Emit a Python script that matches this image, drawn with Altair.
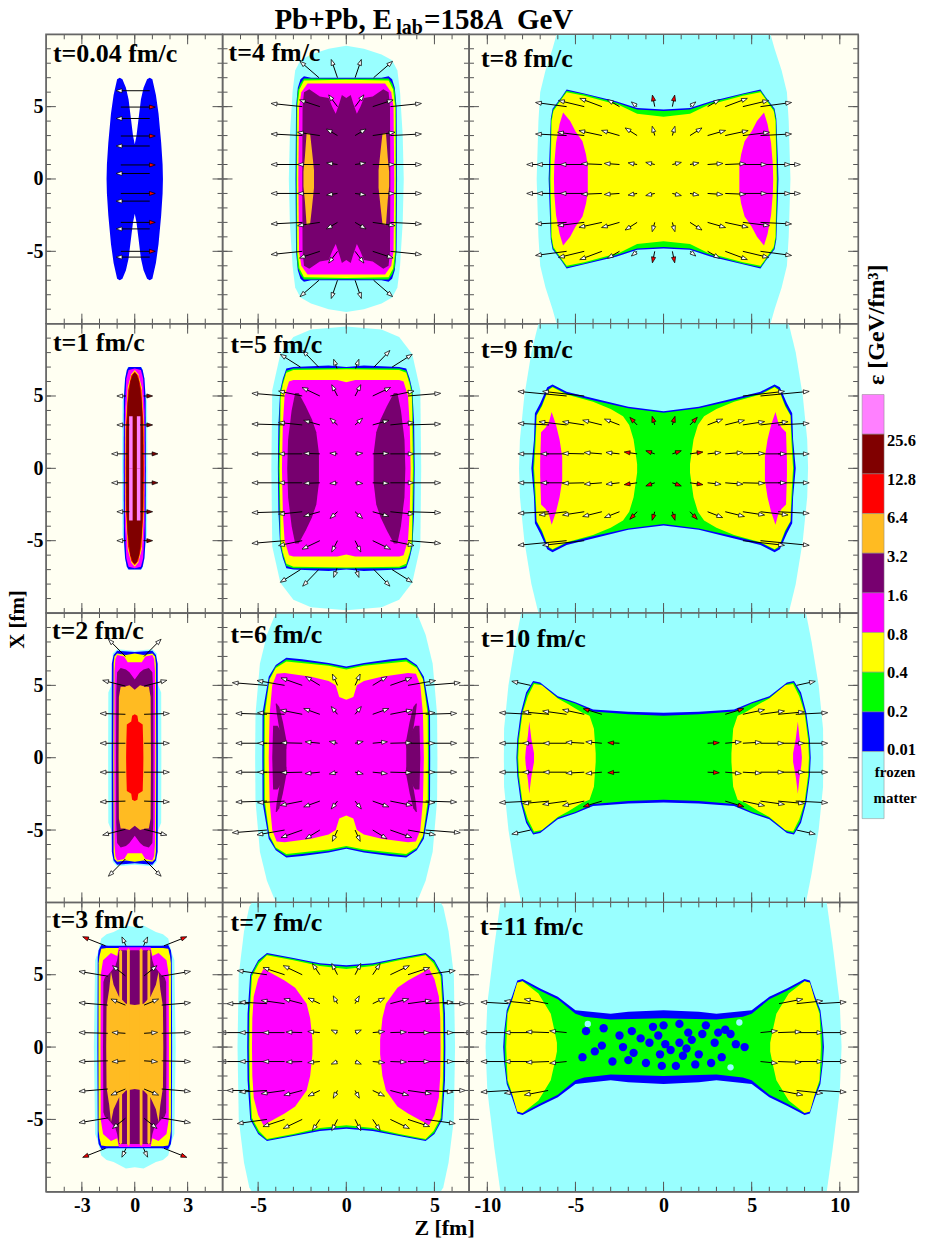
import math
import altair as alt
import pandas as pd

CYAN, BLUE, GREEN, YELLOW = "#99FFFF", "#0000FF", "#00FF00", "#FFFF00"
MAG, PURP, ORNG, RED, DRED, PINK = "#FF00FF", "#77006F", "#FFBB22", "#FF0000", "#800000", "#FF80FF"
BG = "#FFFFF2"
FONT = "Liberation Serif"

LABELS = ["t=0.04 fm/c", "t=1 fm/c", "t=2 fm/c", "t=3 fm/c", "t=4 fm/c", "t=5 fm/c",
          "t=6 fm/c", "t=7 fm/c", "t=8 fm/c", "t=9 fm/c", "t=10 fm/c", "t=11 fm/c"]
LEVELS = ["25.6", "12.8", "6.4", "3.2", "1.6", "0.8", "0.4", "0.2", "0.01"]
BAR_COLORS = [PINK, DRED, RED, ORNG, PURP, MAG, YELLOW, GREEN, BLUE, CYAN]
BAR_EDGES = [0, 1, 2, 3, 4, 5, 6, 7, 8, 9, 10.69]

# regions: F = whole mirrored profile, L = lobe pair, B = band in four quadrants
T0_R = [("F", BLUE, [0, .1, .2, .35, .5, .7, .85, 1.0, 1.2, 1.35, 1.5, 1.58, 1.6],
         [2.4, 3, 4, 5.5, 6.3, 6.9, 7, 6.9, 5.8, 4.5, 2.5, 1, 0])]
T0_A = [(.85, 6.1, -.89, 6.1, "white"), (.85, 4.18, -.89, 4.18, "white"), (.85, 2.28, -.89, 2.28, "white"),
        (.85, .38, -.89, .38, "white"), (.85, -1.53, -.89, -1.53, "white"), (.85, -3.45, -.89, -3.45, "white"),
        (.85, -5.4, -.89, -5.4, "white"), (-.79, 4.97, 1, 4.97, RED), (-.79, 2.97, 1, 2.97, RED),
        (-.79, .97, 1, .97, RED), (-.79, -1, 1, -1, RED), (-.79, -3, 1, -3, RED), (-.79, -5, 1, -5, RED)]

T1_R = [("F", CYAN, [0, .4, .55, .62, .7, .72], [7.0, 7.0, 6.2, 5, 4.6, 0]),
        ("F", BLUE, [0, .35, .45, .55, .62, .63], [7.0, 7.0, 6.8, 6.2, 4.8, 0]),
        ("F", MAG, [0, .35, .48, .56, .57], [6.9, 6.8, 6.2, 4, 0]),
        ("F", YELLOW, [0, .2, .4, .53, .54], [6.8, 6.5, 5.6, 3, 0]),
        ("F", RED, [0, .2, .38, .5, .52], [6.7, 6.4, 5.4, 3, 0]),
        ("F", DRED, [0, .1, .25, .4, .47, .48], [6.6, 6.5, 6, 4.5, 2.5, 0]),
        ("B", PINK, [.12, .22, .32], [0, 0, 0], [3.6, 3.6, 3.6])]
T1_A = [(.5, 5, .85, 5), (.3, 3, .85, 3), (.4, 1, 1.15, 1)]

T2_R = [("F", CYAN, [0, 1, 1.25, 1.33, 1.5, 1.51], [7.4, 7.5, 7.2, 5, 4.5, 0]),
        ("F", BLUE, [0, 1, 1.2, 1.3, 1.31], [7.3, 7.4, 7.1, 6.5, 0]),
        ("F", YELLOW, [0, .5, 1, 1.15, 1.2, 1.22], [7.2, 7.1, 7.2, 7.0, 6.5, 0]),
        ("F", MAG, [0, .4, .6, 1, 1.1, 1.15, 1.16], [6.6, 6.6, 7.0, 7.1, 6.8, 6, 0]),
        ("F", PURP, [0, .3, .5, .8, 1.0, 1.05, 1.06], [5.4, 5.9, 6.1, 6.2, 5.9, 4.5, 0]),
        ("F", ORNG, [0, .3, .6, .8, .9, .92], [4.7, 5, 4.9, 4.9, 4.2, 0]),
        ("F", RED, [0, .15, .2, .45, .48, .49], [3, 2.9, 2.5, 2.3, 1, 0])]
T2_A = [(.53, 7, 1.38, 8.05), (.53, 4.95, 1.66, 5.3), (.53, 3, 1.8, 3.05), (.53, 1, 1.8, 1)]

T3_R = [("F", CYAN, [0, .5, 1.2, 1.6, 1.9, 2.1, 2.25, 2.32], [8.3, 8.4, 7.95, 7.8, 7.5, 6.5, 6, 0]),
        ("F", BLUE, [0, 1.5, 1.9, 2.05, 2.1, 2.12], [7, 7, 7.05, 6.7, 6.2, 0]),
        ("F", YELLOW, [0, 1.6, 1.9, 2.0, 2.05, 2.06], [6.85, 6.85, 6.8, 6.3, 5.8, 0]),
        ("F", MAG, [0, .9, 1.0, 1.35, 1.8, 1.93, 1.94], [6.9, 6.9, 6.3, 6.5, 6, 5, 0]),
        ("F", PURP, [0, .9, 1.0, 1.1, 1.5, 1.7, 1.78, 1.8], [6.7, 6.7, 6, 5.6, 5, 4.8, 4.5, 0]),
        ("F", ORNG, [0, .5, .9, 1.2, 1.35, 1.45, 1.6, 1.62], [2.9, 3, 3.5, 4.3, 5.2, 4, 2.8, 0]),
        ("L", ORNG, [.28, .36, .44], [6.7, 6.85, 6.7]),
        ("L", ORNG, [.72, .8, .88], [6.6, 6.75, 6.6])]
T3_A = [(.5, 7, .66, 7.43), (1.66, 7, 2.8, 7.55, RED), (.53, 4.92, 1.13, 5.5), (1.53, 4.9, 3, 5.2),
        (.53, 2.9, 1.2, 3.24), (1.53, 2.9, 3, 3.05), (.53, .95, 1.13, 1), (1.53, .95, 3, 1)]

T4_R = [("F", CYAN, [0, 1, 2, 2.6, 2.9, 3.05, 3.2, 3.26], [9.2, 9, 8.6, 8.2, 7.5, 6, 3, 0]),
        ("F", BLUE, [0, 1, 2, 2.4, 2.6, 2.75, 2.85, 2.88], [7, 7, 7, 7.1, 6.9, 6.3, 5, 0]),
        ("F", GREEN, [0, 2.4, 2.6, 2.75, 2.82, 2.84], [6.93, 6.95, 6.6, 6.1, 5, 0]),
        ("F", YELLOW, [0, 2.4, 2.65, 2.78, 2.8], [6.85, 6.8, 6.2, 5, 0]),
        ("F", MAG, [0, 2.2, 2.55, 2.68, 2.72], [6.6, 6.6, 6, 5, 0]),
        ("F", PURP, [0, .25, .4, .6, .8, 1, 1.5, 2.1, 2.4, 2.48, 2.5], [5.6, 5.8, 5.2, 4.5, 5, 5.6, 5.7, 6.2, 6, 5, 0]),
        ("L", ORNG, [1.83, 1.95, 2.05, 2.25, 2.35, 2.43], [.6, 2, 3.1, 3.2, 1.5, .5])]
T4_A = [(.5, 7, .8, 8.07), (1.55, 7, 2.5, 8), (.5, 5, .9, 5.65), (1.5, 5, 2.5, 5.4), (2.5, 5, 4.1, 5.2),
        (.5, 3, .98, 3.35), (1.5, 3, 2.6, 3.2), (2.5, 3, 4.1, 3.1), (.5, 1, .95, 1.08), (1.5, 1, 2.6, 1), (2.5, 1, 4.1, 1)]

T5_R = [("F", CYAN, [0, 2, 3, 3.74, 4.2, 4.25], [9.8, 9.6, 9.08, 7.9, 5.4, 0]),
        ("F", BLUE, [0, 1, 3, 3.4, 3.6, 3.75, 3.85, 3.88], [7, 7.1, 7, 6.9, 6.2, 5.4, 3, 0]),
        ("F", GREEN, [0, 3, 3.4, 3.6, 3.75, 3.84], [6.93, 6.9, 6.75, 6, 5.2, 0]),
        ("F", YELLOW, [0, 3, 3.4, 3.6, 3.72, 3.78], [6.85, 6.8, 6.6, 5.8, 5, 0]),
        ("F", MAG, [0, .5, 3, 3.25, 3.5, 3.6, 3.65], [5.95, 6.1, 6.1, 6, 5, 3, 0]),
        ("L", PURP, [1.55, 1.7, 1.95, 2.3, 2.7, 2.9, 3.1, 3.3, 3.35], [1, 2.5, 3.4, 4.3, 5.2, 5.2, 4, 2, 0])]
T5_A = [(.53, 6.9, .66, 7.35), (1.57, 7, 2.36, 8), (2.6, 7, 3.6, 7.77), (.5, 5, .75, 5.6), (1.5, 5, 2.36, 5.5),
        (2.5, 5, 3.68, 5.3), (3.5, 5, 5.19, 5.17), (.5, 3, .8, 3.33), (1.5, 3, 2.26, 3.26), (2.5, 3, 3.68, 3.15),
        (3.5, 3, 5.19, 3.06), (.5, 1, .77, 1.03), (1.5, 1, 2.26, 1.03), (2.5, 1, 3.68, 1), (3.5, 1, 5.19, 1)]

T6_R = [("F", CYAN, [0, 3.8, 4.1, 4.5, 4.9, 5.15, 5.17], [10.2, 10.2, 9.7, 8.5, 6.5, 3, 0]),
        ("F", BLUE, [0, 1, 2.5, 3.4, 4, 4.4, 4.75, 4.76], [6.3, 6.55, 6.8, 6.9, 6.4, 5.6, 3.1, 0]),
        ("F", GREEN, [0, 1, 3.4, 4, 4.35, 4.68, 4.69], [6.2, 6.45, 6.78, 6.3, 5.5, 3, 0]),
        ("F", YELLOW, [0, 1, 3.4, 4, 4.35, 4.62, 4.63], [6.1, 6.35, 6.65, 6.2, 5.4, 3, 0]),
        ("F", MAG, [0, .4, .6, 1, 2, 3.5, 3.95, 4.2, 4.35, 4.4], [4, 4.2, 5, 5.3, 5.6, 5.85, 5.8, 5, 3, 0]),
        ("L", PURP, [3.4, 3.6, 3.9, 4.15, 4.2], [.9, 1.6, 2.2, 2.2, 0]),
        ("B", PURP, [3.4, 3.6, 3.8, 3.95, 4], [.6, 1.2, 2, 3.1, 3.7], [1.2, 2.5, 3.5, 3.75, 3.75])]
T6_A = [(.5, 5, .72, 5.6), (1.5, 5, 2.17, 5.5), (2.5, 5, 3.55, 5.45), (3.5, 5, 4.9, 5.3), (4.5, 5, 6.3, 5.17),
        (.5, 3, .75, 3.38), (1.5, 3, 2.26, 3.33), (2.5, 3, 3.58, 3.26), (3.5, 3, 4.87, 3.1), (4.5, 3, 6.1, 3.06),
        (.5, 1, .8, 1.08), (1.5, 1, 2.17, 1.08), (2.5, 1, 3.55, 1.03), (3.5, 1, 4.87, 1), (4.5, 1, 6.1, 1)]

T7_R = [("F", CYAN, [0, 5.2, 5.5, 5.8, 6.1, 6.17], [10.3, 10.3, 9.7, 8, 5, 0]),
        ("F", BLUE, [0, 1.5, 3, 4.5, 5, 5.45, 5.6, 5.62], [5.65, 5.8, 6.15, 6.5, 6, 5, 2.3, 0]),
        ("F", GREEN, [0, 1.5, 3, 4.5, 5, 5.4, 5.52, 5.54], [5.55, 5.7, 6.08, 6.42, 5.9, 4.95, 2.3, 0]),
        ("F", YELLOW, [0, 1.5, 3, 4.5, 4.95, 5.35, 5.48, 5.5], [5.4, 5.6, 6, 6.35, 5.8, 4.9, 2.3, 0]),
        ("L", MAG, [1.92, 2.05, 2.25, 2.9, 3.5, 4.4, 4.7, 5, 5.25, 5.33, 5.35], [.5, 2, 3, 4.1, 4.6, 5.2, 5.4, 4.7, 3.5, 2, 0])]
T7_A = [(.5, 5, .75, 5.6), (1.5, 5, 1.83, 5.6), (2.5, 5, 3.43, 5.54), (3.5, 5, 4.57, 5.43), (4.5, 5, 6.02, 5.26),
        (.5, 3, .66, 3.36), (1.5, 3, 2.02, 3.3), (2.5, 3, 3.38, 3.28), (3.5, 3, 4.66, 3.2), (4.5, 3, 5.9, 3.1), (5.5, 3, 6.6, 3),
        (.5, 1, .7, 1.1), (1.5, 1, 2.02, 1.06), (2.5, 1, 3.25, 1.03), (3.5, 1, 4.57, 1), (4.5, 1, 5.9, 1), (5.5, 1, 7, 1)]

T8_R = [("F", CYAN, [0, 6, 6.3, 6.7, 7, 7.1, 7.2], [10.5, 10.3, 9, 7.5, 6, 4, 0]),
        ("F", BLUE, [0, 1.5, 2.7, 4.5, 5.5, 5.8, 6.3, 6.4, 6.5, 6.52], [4.8, 4.9, 5.38, 5.9, 6.18, 5.65, 4.85, 4.16, .7, 0]),
        ("F", GREEN, [0, 1.5, 2.7, 4.5, 5.5, 5.8, 6.27, 6.38, 6.47], [4.7, 4.8, 5.28, 5.85, 6.1, 5.6, 4.8, 4.1, 0]),
        ("F", YELLOW, [0, 1.5, 2.5, 4.5, 5.5, 5.8, 6.25, 6.35, 6.42], [4.3, 4.5, 5.1, 5.75, 6, 5.5, 4.7, 4, 0]),
        ("L", MAG, [4.3, 4.4, 4.6, 5, 5.3, 5.7, 5.9, 6.1, 6.2, 6.22], [.9, 1.7, 2.6, 3.3, 4, 4.6, 3.8, 2.5, 1, 0])]
T8_A = [(.5, 5, .6, 5.6, RED), (1.5, 5, 1.7, 5.2), (2.5, 5, 3.04, 5.38), (3.5, 5, 4.6, 5.5), (4.5, 5, 5.8, 5.38), (5.5, 5, 7.1, 5.26),
        (.5, 3, .6, 3.45), (1.5, 3, 2.04, 3.42), (2.5, 3, 3.36, 3.3), (3.5, 3, 4.64, 3.3), (4.5, 3, 5.85, 3.2), (5.5, 3, 7.1, 3.1),
        (.5, 1, .85, 1.1), (1.5, 1, 1.85, 1.08), (2.5, 1, 3.2, 1.06), (3.5, 1, 4.5, 1.05), (4.5, 1, 5.7, 1), (5.5, 1, 7.04, 1), (6.5, 1, 7.6, 1)]

T9_R = [("F", CYAN, [0, 7, 7.5, 7.9, 8.15, 8.2], [10.5, 10.5, 8, 5, 2, 0]),
        ("F", BLUE, [0, 2, 4, 5.5, 6.3, 6.6, 7, 7.3, 7.35, 7.5], [3.95, 4.25, 4.85, 5.3, 5.8, 5.6, 4.5, 3.8, 2, 0]),
        ("F", GREEN, [0, 2, 4, 5.5, 6.3, 6.55, 6.9, 7.2, 7.3, 7.4], [3.85, 4.15, 4.7, 5.15, 5.65, 5.45, 4.4, 3.7, 2, 0]),
        ("L", YELLOW, [1.5, 1.7, 1.95, 2.3, 3, 4, 5.5, 6.3, 6.55, 6.9, 7.2, 7.25, 7.35], [.3, 2, 3, 3.6, 4.1, 4.6, 5.1, 5.6, 5.4, 4.3, 3.65, 2, 0]),
        ("L", MAG, [5.75, 5.9, 6.1, 6.35, 6.5, 6.7, 6.95, 7], [.8, 2, 3, 3.9, 3.2, 2.8, 2.5, .5])]
T9_A = [(4.5, 5, 6.7, 5.3), (5.5, 5, 8.1, 5.3),
        (.5, 3, .6, 3.4, RED), (1.5, 3, 1.8, 3.38, RED), (2.5, 3, 3.2, 3.33), (3.5, 3, 4.43, 3.28), (4.5, 3, 5.57, 3.2), (5.5, 3, 6.9, 3.2), (6.5, 3, 8.1, 3.1),
        (.5, 1, .85, 1.15, RED), (1.5, 1, 2.07, 1.1, RED), (2.5, 1, 3.1, 1.08), (3.5, 1, 4.34, 1.08), (4.5, 1, 5.57, 1.03), (5.5, 1, 6.8, 1), (6.5, 1, 8.1, 1)]

T10_R = [("F", CYAN, [0, 8, 8.4, 8.8, 9.05, 9.06], [10.5, 10.5, 8, 5, 2, 0]),
         ("F", BLUE, [0, 2, 4, 5, 6, 7, 7.4, 7.8, 8.1, 8.3, 8.35], [3.1, 3.17, 3.33, 3.84, 4.25, 5.2, 5.3, 4.5, 3.1, 1.27, 0]),
         ("F", GREEN, [0, 2, 4, 5, 6, 7, 7.38, 7.75, 8.05, 8.25, 8.3], [2.9, 3, 3.2, 3.75, 4.15, 5.1, 5.2, 4.4, 3, 1.25, 0]),
         ("L", YELLOW, [3.85, 3.95, 4.2, 4.6, 5.4, 6, 6.9, 7.35, 7.7, 8, 8.2, 8.25], [.3, 2, 2.9, 3.1, 3.7, 4.1, 5, 5.1, 4.25, 3.1, 1.25, 0]),
         ("L", MAG, [7.35, 7.5, 7.62, 7.7, 7.82, 7.85], [.3, 1.3, 2.5, 1.5, .5, 0])]
T10_A = [(7.55, 5, 8.45, 5.24), (3.5, 3, 4.4, 3.33, RED), (4.5, 3, 5.57, 3.28), (5.5, 3, 6.7, 3.2), (6.5, 3, 7.83, 3.15), (7.5, 3, 9.15, 3.1),
         (2.5, 1, 3, 1.03, RED), (3.5, 1, 4.25, 1.08), (4.5, 1, 5.38, 1.06), (5.5, 1, 6.66, 1), (6.5, 1, 7.83, 1), (7.5, 1, 9.15, 1)]

T11_R = [("F", CYAN, [0, 9.2, 9.6, 10, 10.1], [10.5, 10.5, 7, 3, 0]),
         ("F", BLUE, [0, 2, 3, 5, 6, 7, 8, 8.3, 8.6, 8.9, 9.05, 9.1], [2.55, 2.44, 2.3, 2.55, 3.47, 4.05, 4.7, 4.6, 3.5, 2.55, 1, 0]),
         ("F", GREEN, [0, 3, 4.5, 5, 6, 7, 8, 8.3, 8.55, 8.85, 9, 9.02], [2, 1.9, 2.1, 2.3, 3.3, 3.9, 4.55, 4.45, 3.4, 2.5, 1, 0]),
         ("L", YELLOW, [6.05, 6.2, 6.4, 7.1, 8, 8.3, 8.6, 8.85, 8.93], [.3, 1.2, 2.3, 3.7, 4.55, 4.45, 3.2, 2.3, 0])]
T11_A = [(6.55, 3, 7.74, 3.28), (7.55, 3, 8.87, 3.17), (8.8, 3, 10.2, 3.1),
         (5.5, 1, 6.3, 1.1), (6.5, 1, 7.64, 1.05), (7.55, 1, 8.87, 1), (8.8, 1, 10.2, 1)]
T11_SPOT_Z = [-3.5, -2.3, -1.7, -.3, -.2, .4, 1.4, 1.3, 2.2, 3.3, 3.5, 2.9, -4.4, -4.6, -.8, .9, -1, -.1, .7, 2, 4.6,
              4.1, -3.4, -2.5, -1.8, -.6, .9, 2.4, 3.1, -2.9, 1.8, -3.9, -1.3, .1, 1.1, 2.7, -2, 0, 1.6, 3.8]
T11_SPOT_X = [.1, 0, -.4, .8, -.5, -.2, 1, -.1, .9, -.7, 1.2, .3, 1.1, -.7, .3, .3, -1.1, -1.3, -1.3, -.5, 0,
              .2, 1.3, .8, 1.1, 1.4, 1.6, 1.5, 1, -1, -1.2, -.3, .6, .2, -.6, -1.1, -.9, 1.5, .5, .9]
HOLE_Z = [4.3, 3.8, -4.3]
HOLE_X = [1.7, -1.4, 1.6]

XT1, XT2, XT3 = list(range(-4, 5)), list(range(-6, 7)), list(range(-10, 11))
XM1, XM2, XM3 = [-3, 0, 3], [-5, 0, 5], [-10, -5, 0, 5, 10]
YT = list(range(-9, 10))
YM = [-5, 0, 5]
SX, SY = 17.67, 14.5
H = 290
COLS = [(177, [-5.04, 4.98], XT1, XM1), (247, [-7.02, 6.96], XT2, XM2), (390, [-11.04, 11.04], XT3, XM3)]
YDOM = [-10, 10]


def frame(**k):
    return pd.DataFrame(k)


def region_layers(regions, xs, ys):
    out = []
    for reg in regions:
        kind, col = reg[0], reg[1]
        z = reg[2]
        parts = []
        if kind == "F":
            back = [v for v in z[::-1] if v != 0]
            zz = [-v for v in back] + list(z)
            hh = list(reg[3][::-1][:len(back)]) + list(reg[3])
            parts.append(frame(z=zz, hi=hh, lo=[-v for v in hh]))
        elif kind == "L":
            for s in (1, -1):
                parts.append(frame(z=[s * v for v in z], hi=reg[3], lo=[-v for v in reg[3]]))
        else:
            for s in (1, -1):
                for t in (1, -1):
                    parts.append(frame(z=[s * v for v in z], hi=[t * v for v in reg[4]], lo=[t * v for v in reg[3]]))
        for d in parts:
            out.append(alt.Chart(d).mark_area(color=col, clip=True, opacity=1).encode(
                x=alt.X("z:Q", scale=xs, axis=None), y=alt.Y("hi:Q", scale=ys, axis=None), y2="lo:Q"))
    return out


def arrow_table(q, right_fill=None, raw=False):
    rows = []
    for a in q:
        fill = a[4] if len(a) > 4 else "white"
        if raw:
            rows.append((a[0], a[1], a[2], a[3], fill))
            continue
        for s in (1, -1):
            for t in (1, -1):
                f = right_fill if (right_fill and s == 1) else fill
                rows.append((s * a[0], t * a[1], s * a[2], t * a[3], f))
    d = pd.DataFrame(rows, columns=["z0", "x0", "z1", "x1", "fill"])
    d["ang"] = [math.degrees(math.atan2((b - a) * SX, (y - x) * SY)) % 360
                for a, b, x, y in zip(d.z0, d.z1, d.x0, d.x1)]
    return d


HEAD = "M0,-1L0.7,1L-0.7,1Z"


def arrow_layers(d, xs, ys):
    line = alt.Chart(d).mark_rule(color="black", strokeWidth=1, clip=True).encode(
        x=alt.X("z0:Q", scale=xs, axis=None), y=alt.Y("x0:Q", scale=ys, axis=None), x2="z1:Q", y2="x1:Q")
    head = alt.Chart(d).mark_point(shape=HEAD, filled=True, size=34, stroke="black", strokeWidth=.7, opacity=1, clip=True).encode(
        x=alt.X("z1:Q", scale=xs, axis=None), y=alt.Y("x1:Q", scale=ys, axis=None),
        fill=alt.Fill("fill:N", scale=None), angle=alt.Angle("ang:Q", scale=None))
    return [line, head]


def tick_layers(w, xs, ys, xt, xm, yaxis, xaxis):
    TC = "#555555"
    out = []
    for vals, ln in ((xt, 5), (xm, 10)):
        d = frame(v=vals)
        xa = xaxis if ln == 10 else None
        out.append(alt.Chart(d).mark_rule(color=TC).encode(x=alt.X("v:Q", scale=xs, axis=xa), y=alt.value(0), y2=alt.value(ln)))
        out.append(alt.Chart(d).mark_rule(color=TC).encode(x=alt.X("v:Q", scale=xs, axis=None), y=alt.value(H), y2=alt.value(H - ln)))
    for vals, ln in ((YT, 5), (YM, 10)):
        d = frame(v=vals)
        ya = yaxis if ln == 10 else None
        out.append(alt.Chart(d).mark_rule(color=TC).encode(y=alt.Y("v:Q", scale=ys, axis=ya), x=alt.value(0), x2=alt.value(ln)))
        out.append(alt.Chart(d).mark_rule(color=TC).encode(y=alt.Y("v:Q", scale=ys, axis=None), x=alt.value(w), x2=alt.value(w - ln)))
    out.append(alt.Chart(frame(a=[0])).mark_rect(filled=False, stroke="#666666", strokeWidth=1.4).encode(
        x=alt.value(0), x2=alt.value(w), y=alt.value(0), y2=alt.value(H)))
    return out


def text_layer(txt, px, py, size=26, style="normal", align="left", angle=0, baseline="middle"):
    return alt.Chart(frame(t=[txt])).mark_text(
        font=FONT, fontWeight="bold", fontStyle=style, fontSize=size, align=align, baseline=baseline,
        color="black", angle=angle).encode(x=alt.value(px), y=alt.value(py), text="t:N")


AX = dict(domain=False, ticks=False, grid=False, labelFont=FONT, labelFontWeight="bold",
          labelFontSize=20, labelColor="black", labelExpr="'' + datum.value", labelOverlap=False)


def panel(col, row, label, lx, ly, regions, arrows, extra=None, right_fill=None, raw=False):
    w, dom, xt, xm = COLS[col]
    xs = alt.Scale(domain=dom, nice=False, zero=False)
    ys = alt.Scale(domain=YDOM, nice=False, zero=False)
    yaxis = None
    if col == 0:
        if row == 2:
            yaxis = alt.Axis(values=YM, labelPadding=3, title="X [fm]", titleFont=FONT, titleFontWeight="bold",
                             titleFontSize=21, titleColor="black", titleX=-18, titleY=6, titleAngle=270, **AX)
        else:
            yaxis = alt.Axis(values=YM, labelPadding=3, title=None, **AX)
    xaxis = None
    if row == 3:
        if col == 1:
            xaxis = alt.Axis(values=xm, orient="bottom", labelPadding=4, title="Z [fm]", titleFont=FONT, titleFontWeight="bold",
                             titleFontSize=22, titleColor="black", titleX=222, titleY=26, **AX)
        else:
            xaxis = alt.Axis(values=xm, orient="bottom", labelPadding=4, title=None, **AX)
    layers = region_layers(regions, xs, ys)
    if extra:
        layers += extra(xs, ys)
    layers += arrow_layers(arrow_table(arrows, right_fill, raw), xs, ys)
    layers += tick_layers(w, xs, ys, xt, xm, yaxis, xaxis)
    layers.append(text_layer(label, lx, ly))
    return layers, w


def finish(layers, w):
    return alt.layer(*layers).resolve_axis(x="independent", y="independent").properties(
        width=w, height=H, view=alt.ViewBackground(fill=BG, stroke="#666666"))


def t11_extra(xs, ys):
    spots = alt.Chart(frame(z=T11_SPOT_Z, x=T11_SPOT_X)).mark_point(filled=True, color=BLUE, size=70, opacity=1, shape="circle").encode(
        x=alt.X("z:Q", scale=xs, axis=None), y=alt.Y("x:Q", scale=ys, axis=None))
    holes = alt.Chart(frame(z=HOLE_Z, x=HOLE_X)).mark_point(filled=True, color=CYAN, size=40, opacity=1, shape="circle").encode(
        x=alt.X("z:Q", scale=xs, axis=None), y=alt.Y("x:Q", scale=ys, axis=None))
    return [spots, holes]


l, w = panel(0, 0, LABELS[0], 7, 20, T0_R, T0_A, raw=True)
p00 = finish(l, w)
l, w = panel(1, 0, LABELS[4], 6, 19, T4_R, T4_A)
l += [text_layer("Pb+Pb, E", 52, -5, 29, baseline="alphabetic"), text_layer("lab", 174, 0, 20, baseline="alphabetic"),
      text_layer("=158", 202, -5, 29, baseline="alphabetic"), text_layer("A", 263, -5, 29, style="italic", baseline="alphabetic"),
      text_layer("GeV", 295, -5, 29, baseline="alphabetic")]
p01 = finish(l, w)
p02 = finish(*panel(2, 0, LABELS[8], 12, 25, T8_R, T8_A))

ys_bar = alt.Scale(domain=[-1.786, -9.08], nice=False, zero=False)
bar_df = frame(a=BAR_EDGES[:-1], b=BAR_EDGES[1:], c=BAR_COLORS)
bar = alt.Chart(bar_df).mark_rect(stroke="#888888", strokeWidth=.5).encode(
    y=alt.Y("a:Q", scale=ys_bar, axis=None), y2="b:Q", x=alt.value(4), x2=alt.value(26),
    fill=alt.Fill("c:N", scale=None))
lev = alt.Chart(frame(t=LEVELS, r=[1.18, 2.15, 3.12, 4.1, 5.07, 6.05, 7.02, 8, 8.97])).mark_text(
    font=FONT, fontWeight="bold", fontSize=16.5, align="left", baseline="middle", color="black").encode(
    y=alt.Y("r:Q", scale=ys_bar, axis=None), x=alt.value(29), text="t:N")
frz = alt.Chart(frame(t=["frozen", "matter"], r=[9.52, 10.16])).mark_text(
    font=FONT, fontWeight="bold", fontSize=15, align="center", baseline="middle", color="black").encode(
    y=alt.Y("r:Q", scale=ys_bar, axis=None), x=alt.value(37), text="t:N")
bar_title = alt.Chart(frame(t=["\u03b5 [GeV/fm\u00b3]"], r=[-1.76])).mark_text(
    font=FONT, fontWeight="bold", fontSize=24, align="center", baseline="middle", color="black", angle=270).encode(
    y=alt.Y("r:Q", scale=ys_bar, axis=None), x=alt.value(19), text="t:N")
legend_cell = alt.layer(bar, lev, frz, bar_title).properties(
    width=58, height=H, view=alt.ViewBackground(fill="transparent", stroke="transparent"))


def blank():
    return alt.Chart(frame(t=[" "])).mark_text(opacity=0).encode(x=alt.value(0), y=alt.value(0), text="t:N").properties(
        width=58, height=H, view=alt.ViewBackground(fill="transparent", stroke="transparent"))


cells = [p00, p01, p02, legend_cell,
         finish(*panel(0, 1, LABELS[1], 7, 19, T1_R, T1_A, right_fill=DRED)),
         finish(*panel(1, 1, LABELS[5], 8, 21, T5_R, T5_A)),
         finish(*panel(2, 1, LABELS[9], 12, 26, T9_R, T9_A)), blank(),
         finish(*panel(0, 2, LABELS[2], 6, 18, T2_R, T2_A)),
         finish(*panel(1, 2, LABELS[6], 8, 22, T6_R, T6_A)),
         finish(*panel(2, 2, LABELS[10], 12, 26, T10_R, T10_A)), blank(),
         finish(*panel(0, 3, LABELS[3], 6, 18, T3_R, T3_A)),
         finish(*panel(1, 3, LABELS[7], 8, 21, T7_R, T7_A)),
         finish(*panel(2, 3, LABELS[11], 11, 25, T11_R, T11_A, extra=t11_extra))]

chart = alt.concat(*cells, columns=4, spacing=0, bounds="flush", align="each",
                   padding={"left": -2, "top": -4, "right": 0, "bottom": -3})
chart.save("out.html", embed_options={"renderer": "svg", "actions": False})
